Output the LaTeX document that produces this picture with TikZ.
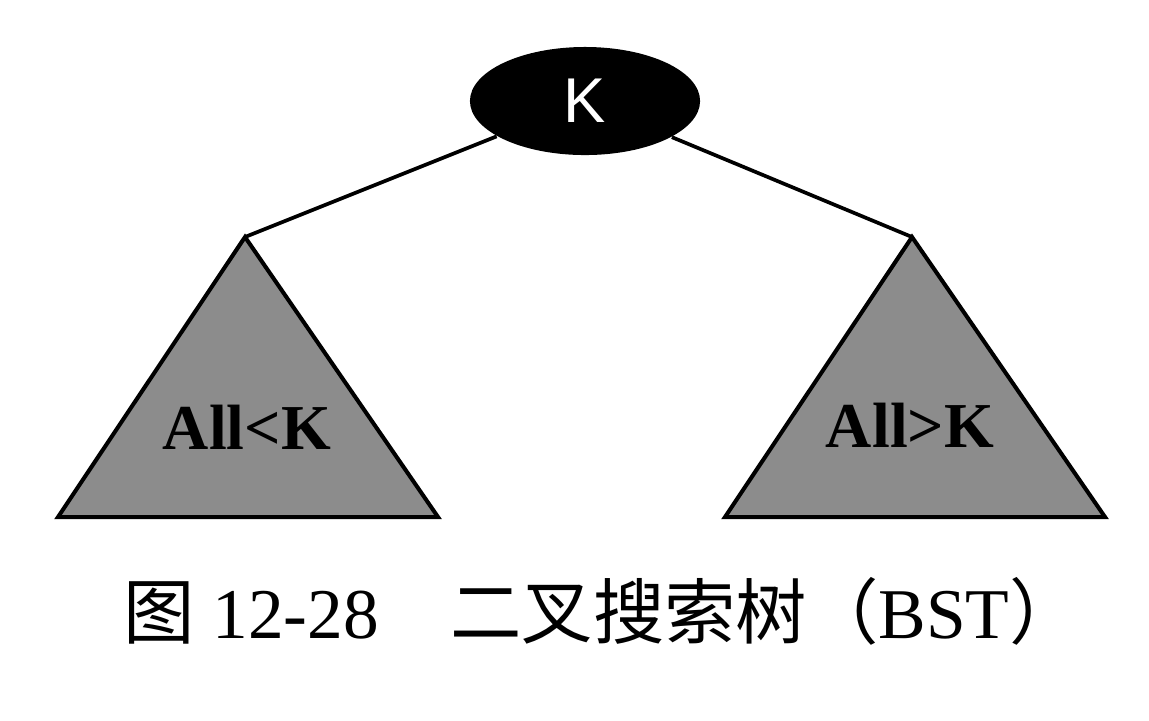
\documentclass[tikz,border=0pt]{standalone}
\usepackage{fontspec}
\setmainfont{Liberation Serif}
\newfontfamily\cjk{Noto Sans CJK SC}
\newfontfamily\sansf{Liberation Sans}
\usetikzlibrary{shapes.geometric}
\definecolor{subgray}{RGB}{140,140,140}
\begin{document}
\begin{tikzpicture}[x=0.01cm,y=-0.01cm,
  rootnode/.style={ellipse, fill=black, text=white, minimum width=2.3cm, minimum height=1.08cm, inner sep=0pt, font=\sansf\fontsize{18}{18}\selectfont},
  edge/.style={line width=1.05pt},
  subtree/.style={draw=black, fill=subgray, line width=1.15pt, line join=miter},
  subtext/.style={font=\bfseries\fontsize{18.2}{18.2}\selectfont, anchor=base, inner sep=0pt},
  captext/.style={font=\fontsize{20.3}{20.3}\selectfont, anchor=base, inner sep=0pt}]
\useasboundingbox (0,0) rectangle (1149,720);
\fill[white] (0,0) rectangle (1149,720);
% root
\node[rootnode] (root) at (585,101) {K};
% subtree apexes and bases
\coordinate (la) at (245,237);
\coordinate (ll) at (58,517);
\coordinate (lr) at (438,517);
\coordinate (ra) at (912,237);
\coordinate (rl) at (725,517);
\coordinate (rr) at (1105,517);
\draw[subtree] (la) -- (lr) -- (ll) -- cycle;
\draw[subtree] (ra) -- (rr) -- (rl) -- cycle;
\node[subtext] (ltext) at (247,449) {All<K};
\node[subtext] (rtext) at (910,447) {All>K};
% connectors
\draw[edge] (root) -- (la);
\draw[edge] (root) -- (ra);
% caption
\node[captext] (cap) at (602,638) {{\cjk 图}\ 12-28{\cjk 　二叉搜索树（}BST{\cjk ）}};
\end{tikzpicture}
\end{document}
